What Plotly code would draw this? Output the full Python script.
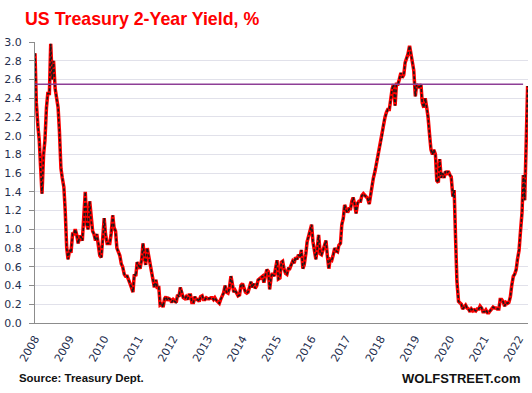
import pandas as pd
import plotly.graph_objects as go

# ---- data (semi-monthly readings: 1st and 15th of each month) ----
START_DATE = "2008-01-01"
END_DATE = "2022-04-01"

y2008 = [2.88, 2.35, 2.10, 1.95, 1.65, 1.38, 1.80, 1.95, 2.30, 2.45, 2.45, 2.98,
         2.60, 2.80, 2.50, 2.40, 2.30, 2.05, 1.65, 1.55, 1.45, 1.20, 0.80, 0.68]
y2009 = [0.78, 0.75, 0.95, 0.95, 1.00, 0.95, 0.85, 0.92, 0.92, 0.88, 1.10, 1.40,
         1.05, 1.00, 1.30, 1.10, 0.98, 0.95, 0.88, 0.95, 0.85, 0.72, 0.70, 0.85]
y2010 = [1.12, 0.95, 0.85, 0.85, 0.85, 0.95, 1.15, 1.02, 0.98, 0.80, 0.75, 0.72,
         0.63, 0.60, 0.52, 0.50, 0.50, 0.45, 0.42, 0.38, 0.33, 0.52, 0.50, 0.65]
y2011 = [0.60, 0.58, 0.68, 0.85, 0.72, 0.62, 0.80, 0.72, 0.60, 0.55, 0.45, 0.38,
         0.46, 0.38, 0.38, 0.19, 0.20, 0.17, 0.26, 0.28, 0.24, 0.26, 0.25, 0.22]
y2012 = [0.25, 0.23, 0.22, 0.30, 0.28, 0.38, 0.33, 0.27, 0.26, 0.28, 0.25, 0.30,
         0.30, 0.22, 0.22, 0.28, 0.25, 0.25, 0.23, 0.28, 0.29, 0.25, 0.25, 0.27]
y2013 = [0.26, 0.26, 0.27, 0.27, 0.25, 0.27, 0.24, 0.23, 0.21, 0.25, 0.30, 0.32,
         0.40, 0.33, 0.32, 0.37, 0.50, 0.40, 0.33, 0.35, 0.31, 0.29, 0.30, 0.40]
y2014 = [0.42, 0.38, 0.33, 0.32, 0.33, 0.38, 0.44, 0.38, 0.42, 0.37, 0.40, 0.46,
         0.47, 0.48, 0.50, 0.43, 0.52, 0.57, 0.55, 0.36, 0.50, 0.53, 0.50, 0.60]
y2015 = [0.67, 0.47, 0.48, 0.65, 0.66, 0.58, 0.53, 0.52, 0.58, 0.58, 0.63, 0.66,
         0.64, 0.70, 0.68, 0.73, 0.70, 0.78, 0.58, 0.62, 0.74, 0.87, 0.93, 1.00]
y2016 = [1.05, 0.87, 0.78, 0.68, 0.80, 0.94, 0.74, 0.73, 0.78, 0.82, 0.88, 0.72,
         0.58, 0.68, 0.67, 0.72, 0.80, 0.77, 0.76, 0.83, 0.85, 1.05, 1.12, 1.26]
y2017 = [1.20, 1.18, 1.22, 1.22, 1.30, 1.34, 1.26, 1.17, 1.28, 1.30, 1.30, 1.36,
         1.38, 1.36, 1.35, 1.33, 1.27, 1.38, 1.48, 1.55, 1.62, 1.70, 1.78, 1.85]
y2018 = [1.92, 2.00, 2.15, 2.20, 2.25, 2.28, 2.28, 2.40, 2.50, 2.55, 2.32, 2.55,
         2.55, 2.60, 2.67, 2.62, 2.65, 2.78, 2.82, 2.87, 2.96, 2.86, 2.80, 2.70]
y2019 = [2.42, 2.55, 2.52, 2.52, 2.55, 2.35, 2.30, 2.40, 2.30, 2.20, 2.00, 1.85,
         1.80, 1.85, 1.80, 1.52, 1.50, 1.75, 1.55, 1.60, 1.55, 1.62, 1.60, 1.62]
y2020 = [1.58, 1.56, 1.35, 1.42, 0.90, 0.45, 0.23, 0.21, 0.20, 0.15, 0.17, 0.19,
         0.16, 0.15, 0.12, 0.15, 0.13, 0.14, 0.13, 0.15, 0.15, 0.18, 0.16, 0.12]
y2021 = [0.12, 0.14, 0.11, 0.11, 0.13, 0.15, 0.17, 0.16, 0.16, 0.15, 0.15, 0.25,
         0.25, 0.23, 0.18, 0.22, 0.21, 0.22, 0.28, 0.40, 0.50, 0.52, 0.57, 0.68]
y2022 = [0.78, 0.97, 1.18, 1.58, 1.31, 1.85, 2.53]

YEAR_LABELS = [str(y) for y in range(2008, 2023)]
HLINE_VALUE = 2.55
HLINE_END = "2022-02-12"

TITLE = "US Treasury 2-Year Yield, %"
SOURCE = "Source: Treasury Dept."
BRAND = "WOLFSTREET.com"

values = (y2008 + y2009 + y2010 + y2011 + y2012 + y2013 + y2014 + y2015 +
          y2016 + y2017 + y2018 + y2019 + y2020 + y2021 + y2022)
dates = pd.date_range(START_DATE, END_DATE, freq="SMS")
assert len(dates) == len(values), (len(dates), len(values))

# ---- layout geometry ----
W, H = 532, 393
ML, MR, MT, MB = 35, 4, 42, 70
PW, PH = W - ML - MR, H - MT - MB

def px_x(px):
    return (px - ML) / PW

def px_y(py):
    return (H - MB - py) / PH

NAVY = "#1F2F4F"
AXIS = "#8C8C8C"

fig = go.Figure()
fig.add_trace(go.Scatter(x=dates, y=values, mode="lines",
                         line=dict(color="#FF0000", width=3.5),
                         hoverinfo="skip", showlegend=False))
fig.add_trace(go.Scatter(x=dates, y=values, mode="lines",
                         line=dict(color="#1A1A1A", width=1.6, dash="3px,2px"),
                         showlegend=False))

fig.add_shape(type="line", xref="x", yref="y",
              x0=START_DATE, x1=HLINE_END, y0=HLINE_VALUE, y1=HLINE_VALUE,
              line=dict(color="#8E3F96", width=1.5), layer="above")

fig.update_layout(
    width=W, height=H,
    margin=dict(l=ML, r=MR, t=MT, b=MB, pad=0, autoexpand=False),
    paper_bgcolor="white", plot_bgcolor="white",
    title=dict(text=TITLE, xref="container", yref="container",
               x=25 / W, xanchor="left", y=1 - 19 / H, yanchor="middle",
               font=dict(family="Liberation Sans", size=17.8, color="#FF0000",
                         weight="bold")),
    showlegend=False,
    annotations=[
        dict(text=SOURCE, xref="paper", yref="paper",
             x=px_x(17), y=px_y(378), xanchor="left", yanchor="middle",
             showarrow=False,
             font=dict(family="Liberation Sans", size=11.4, color="#111111",
                       weight="bold")),
        dict(text=BRAND, xref="paper", yref="paper",
             x=px_x(522), y=px_y(378), xanchor="right", yanchor="middle",
             showarrow=False,
             font=dict(family="Liberation Sans", size=13, color="#111111",
                       weight="bold")),
    ],
)

fig.update_xaxes(
    type="date", range=[START_DATE, "2022-04-05"], automargin=False,
    tickvals=[f"{y}-01-01" for y in YEAR_LABELS], ticktext=YEAR_LABELS,
    tickangle=-60, showgrid=False, zeroline=False,
    showline=True, linecolor=AXIS, linewidth=1.2, ticks="",
    ticklabelstandoff=4,
    tickfont=dict(family="DejaVu Sans", size=11, color=NAVY),
)
fig.update_yaxes(
    range=[0, 3.0], dtick=0.2, tick0=0, tickformat=".1f", automargin=False,
    showgrid=True, gridcolor="#E1E1EA", gridwidth=1, zeroline=False,
    showline=True, linecolor=AXIS, linewidth=1.2,
    ticks="outside", ticklen=5, tickcolor=AXIS,
    ticklabelstandoff=5,
    tickfont=dict(family="DejaVu Sans", size=11, color=NAVY),
)

fig.write_html("out.html",
               config={"displayModeBar": False},
               post_script="document.body.style.margin='0';"
                           "document.body.style.overflow='hidden';")
